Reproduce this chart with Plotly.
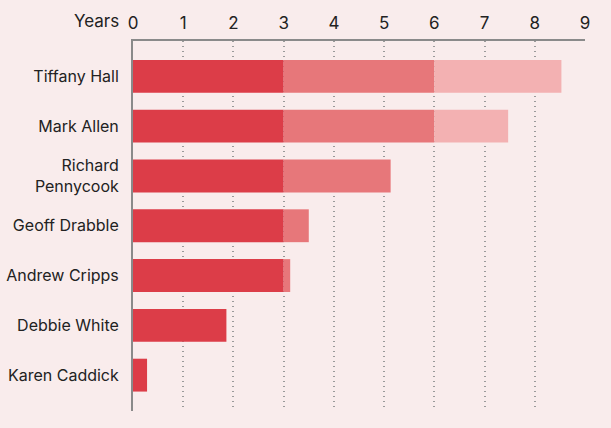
import plotly.graph_objects as go

# Tenure on the board, in years
names = ["Tiffany Hall", "Mark Allen", "Richard<br>Pennycook", "Geoff Drabble",
         "Andrew Cripps", "Debbie White", "Karen Caddick"]
tenure = [8.53, 7.47, 5.13, 3.5, 3.13, 1.86, 0.28]

# Three-year term bands
term_edges = [0, 3, 6, 9]
term_colors = ["rgb(220,61,72)", "rgb(231,119,122)", "rgb(243,177,178)"]

rows = list(range(len(names)))
FONT = "Inter, Roboto, sans-serif"

fig = go.Figure()
for i, color in enumerate(term_colors):
    lo, hi = term_edges[i], term_edges[i + 1]
    seg = [max(0.0, min(v, hi) - lo) for v in tenure]
    fig.add_trace(go.Bar(
        y=rows, x=seg, base=[lo] * len(rows), orientation="h",
        marker=dict(color=color, line=dict(width=0)),
        width=0.66, showlegend=False, hoverinfo="skip",
    ))

fig.add_annotation(
    text="Years", xref="paper", yref="paper", x=0, y=1,
    xanchor="right", yanchor="bottom", xshift=-12, yshift=8,
    showarrow=False, font=dict(family=FONT, size=17, color="#222"),
)

fig.update_layout(
    width=611, height=428,
    margin=dict(l=133, r=26, t=41, b=17, autoexpand=False),
    paper_bgcolor="rgb(249,236,236)", plot_bgcolor="rgb(249,236,236)",
    barmode="overlay",
    font=dict(family=FONT, size=16, color="#222"),
)
fig.update_xaxes(
    side="top", range=[0, 9], tickvals=list(range(10)),
    tickfont=dict(size=17), ticklabelstandoff=3, automargin=False,
    showgrid=True, gridcolor="#9a9a9a", griddash="1px,4px", gridwidth=1.5,
    zeroline=False, showline=True, linecolor="#8a8a8a", linewidth=2,
    fixedrange=True,
)
fig.update_yaxes(
    range=[6.72, -0.71], tickvals=rows, ticktext=names, automargin=False,
    showgrid=False, zeroline=False, showline=True, linecolor="#8a8a8a", linewidth=2,
    ticklabelstandoff=9, tickfont=dict(size=16),
)

fig.write_html("out.html")
